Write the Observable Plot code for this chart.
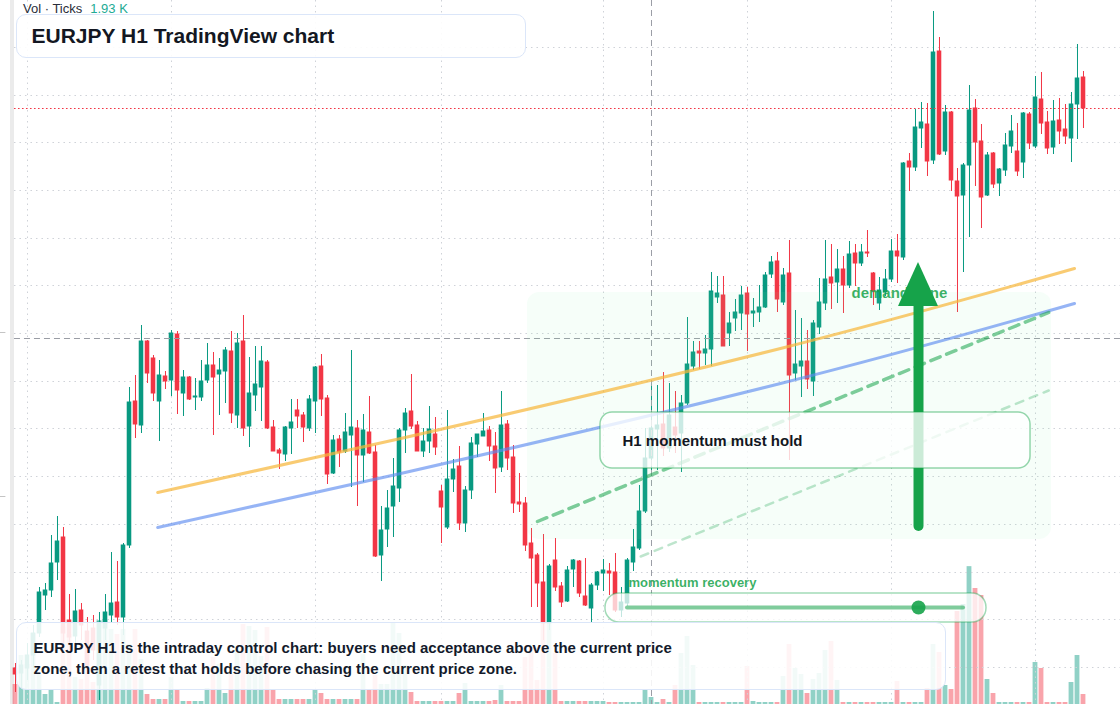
<!DOCTYPE html>
<html lang="en">
<head>
<meta charset="utf-8">
<title>EURJPY H1 TradingView chart</title>
<script src="https://cdn.jsdelivr.net/npm/d3@7"></script>
<script src="https://cdn.jsdelivr.net/npm/@observablehq/plot@0.6"></script>
<style>
  html, body { margin: 0; padding: 0; background: #ffffff; }
  #chart { position: relative; width: 1120px; height: 704px; overflow: hidden; background: #fff;
           font-family: "Liberation Sans", Arial, Helvetica, sans-serif; }
  #chart svg { position: absolute; left: 0; display: block; }
  #vol-layer { top: 504px; }
  #price-layer { top: 0; }
  .scale-strip { position: absolute; left: 10px; top: 0; width: 4px; height: 704px; background: #ebebeb; }
  .legend { position: absolute; left: 23px; top: 0; font-size: 13px; line-height: 17px; color: #2a2e39; white-space: nowrap; }
  .legend .val { color: #22ab94; margin-left: 8px; }
  .title-box { position: absolute; left: 16px; top: 14px; width: 510px; height: 44px; box-sizing: border-box;
     border: 1.5px solid #dbe6f9; border-radius: 10px; background: rgba(255,255,255,0.9);
     display: flex; align-items: center; padding-left: 14.5px; font-size: 21px; font-weight: 700; color: #131722; }
  .caption-box { position: absolute; left: 16px; top: 622px; width: 930px; height: 68px; box-sizing: border-box;
     border: 1.5px solid #dbe6f9; border-radius: 10px; background: rgba(255,255,255,0.88);
     padding: 14px 0 0 16.5px; font-size: 15px; line-height: 21px; font-weight: 700; color: #131a2b; white-space: nowrap; }
</style>
</head>
<body>
<div id="chart"><div class="scale-strip"></div></div>
<script>
// ---- Data: EURJPY H1 candles (index = hour number), prices in JPY ----
const open = [158.32,158.27,158.32,158.45,158.67,159.05,159.10,159.38,159.63,158.80,
158.64,158.90,158.69,158.72,158.15,158.72,158.85,158.98,158.83,159.55,
160.99,160.75,161.59,161.42,160.99,161.24,161.20,161.66,161.07,161.23,
161.03,161.03,161.20,161.35,161.26,161.29,161.49,160.85,161.59,160.74,
161.05,161.13,161.38,160.73,160.50,160.46,160.72,160.90,160.85,160.72,
160.99,161.34,161.02,160.27,160.61,160.49,160.65,160.72,160.45,160.68,
160.48,159.45,159.71,159.94,160.12,160.70,160.89,160.75,160.49,160.59,
160.66,160.09,159.73,160.21,160.34,159.77,160.10,160.56,160.64,160.70,
160.54,160.33,160.76,160.43,159.98,159.97,159.57,159.45,159.18,158.77,
159.40,159.14,158.99,159.31,159.39,159.04,158.92,159.15,159.27,159.29,
159.28,158.90,158.97,159.38,159.52,159.89,160.42,160.71,160.76,160.52,
160.73,160.67,160.97,161.34,161.49,161.47,161.51,162.03,162.05,161.67,
161.82,161.87,162.07,161.87,161.88,161.93,162.26,162.39,161.98,162.27,
161.27,161.34,161.39,161.19,161.73,161.97,162.23,162.18,162.31,162.15,
162.47,162.37,162.48,162.27,161.97,162.08,162.21,162.49,162.43,163.39,
163.33,163.72,163.76,163.40,164.49,163.49,163.88,163.19,163.05,163.35,
163.92,163.59,163.05,163.47,163.17,163.30,163.54,163.49,163.38,163.86,
163.54,164.01,163.78,163.53,163.80,163.71,163.62,163.96,164.23];
const high = [158.37,158.40,158.57,158.75,159.13,159.17,159.65,159.84,159.73,159.06,
159.11,158.97,158.83,158.85,158.88,159.06,159.48,159.39,159.57,161.13,
161.25,161.75,161.60,161.45,161.40,161.29,161.70,161.69,161.30,161.24,
161.22,161.40,161.57,161.48,161.42,161.53,161.69,161.67,161.85,161.43,
161.54,161.54,161.40,160.80,160.52,160.74,161.01,161.01,160.88,161.05,
161.34,161.46,161.05,160.65,160.65,160.87,161.50,160.80,160.86,161.04,
160.55,159.94,160.10,160.42,160.72,160.92,161.26,160.79,160.72,160.94,
160.83,160.15,160.90,160.41,160.54,160.14,160.63,160.66,160.87,160.74,
160.68,161.09,160.80,160.55,160.27,160.03,159.72,159.47,159.66,159.36,
159.62,159.18,159.34,159.41,159.40,159.42,159.17,159.29,159.41,159.37,
159.47,159.13,159.42,159.71,160.15,160.72,161.16,161.15,161.28,161.17,
161.09,161.05,161.83,161.59,161.59,161.65,162.28,162.24,162.24,161.88,
162.01,162.14,162.13,162.02,162.15,162.28,162.44,162.48,162.32,162.60,
161.90,161.82,161.70,161.80,162.22,162.60,162.56,162.51,162.44,162.59,
162.56,162.56,162.70,162.28,162.23,162.31,162.61,162.66,163.38,163.47,
163.91,163.98,163.97,164.89,164.63,163.95,163.89,163.32,163.37,164.15,
164.01,163.76,163.48,163.48,163.32,163.67,163.85,163.77,163.88,163.88,
164.24,164.28,163.89,164.00,164.02,163.96,164.08,164.56,164.29];
const low = [158.08,158.12,158.20,158.32,158.63,158.90,159.03,159.20,158.55,158.50,
158.55,158.60,158.28,158.40,158.00,158.60,158.78,158.75,158.65,159.52,
160.62,160.67,161.17,160.99,160.59,161.11,161.04,160.86,160.84,161.00,
160.90,160.99,161.17,160.65,160.85,160.97,160.77,160.72,160.64,160.53,
160.89,160.79,160.71,160.49,160.31,160.39,160.46,160.72,160.58,160.69,
160.67,160.84,160.16,160.26,160.33,160.47,160.13,159.94,160.18,160.46,
159.43,159.19,159.53,159.63,159.98,160.47,160.71,160.49,160.43,160.47,
160.45,159.57,159.71,160.08,159.70,159.68,160.01,160.43,160.64,160.39,
160.07,160.28,160.30,159.87,159.88,159.49,158.93,158.93,158.60,158.70,
159.09,158.93,158.98,159.13,159.03,158.94,158.78,159.10,159.09,159.05,
158.88,158.83,158.94,159.29,159.50,159.87,160.30,160.30,160.44,160.48,
160.47,160.28,160.95,161.30,161.31,161.35,161.34,161.97,161.54,161.54,
161.69,161.70,161.49,161.73,161.78,161.92,162.22,161.88,161.95,160.40,
161.20,161.03,161.11,161.04,161.66,161.90,161.91,161.97,161.87,162.12,
162.14,162.34,162.43,161.95,161.90,162.04,162.18,162.17,162.40,163.09,
163.29,163.52,163.24,163.36,163.45,163.45,163.09,161.88,162.28,162.63,
163.14,162.72,163.04,163.12,163.04,163.24,163.47,163.24,163.22,163.51,
163.52,163.66,163.46,163.46,163.56,163.56,163.38,163.61,163.72];
const close = [158.26,158.35,158.45,158.67,159.08,159.10,159.37,159.59,158.67,158.63,
158.89,158.75,158.35,158.50,158.78,158.88,158.97,158.83,159.55,160.98,
160.76,161.59,161.27,161.07,161.25,161.19,161.67,161.10,161.23,161.01,
161.04,161.19,161.35,161.23,161.30,161.50,160.87,161.57,160.72,161.07,
161.16,161.39,160.72,160.49,160.47,160.73,160.78,160.84,160.73,161.01,
161.33,161.01,160.26,160.60,160.48,160.68,160.73,160.45,160.70,160.47,
159.44,159.70,159.92,160.14,160.70,160.87,160.74,160.49,160.59,160.71,
160.53,159.93,160.21,160.31,159.77,160.10,160.57,160.66,160.69,160.54,
160.32,160.75,160.42,159.97,159.96,159.55,159.42,159.17,158.77,159.34,
159.13,158.98,159.30,159.40,159.07,158.95,159.15,159.28,159.30,159.27,
158.90,158.98,159.40,159.53,159.89,160.42,160.72,160.75,160.52,160.85,
160.65,160.97,161.36,161.48,161.47,161.51,162.09,162.07,161.54,161.77,
161.88,162.05,161.86,161.89,161.93,162.25,162.38,162.01,162.25,161.25,
161.36,161.39,161.21,161.77,161.98,162.21,162.17,162.31,162.15,162.46,
162.37,162.48,162.47,162.09,162.10,162.21,162.49,162.44,163.37,163.33,
163.73,163.78,163.39,164.48,163.46,163.88,163.20,163.04,163.35,163.90,
163.58,163.03,163.45,163.16,163.31,163.55,163.69,163.29,163.87,163.57,
164.03,163.77,163.52,163.79,163.69,163.64,163.96,164.22,163.92];
// tick volume per candle
const volume = [280,686,560,994,420,140,210,28,1078,980,
378,350,742,308,1176,1176,1050,980,1050,840,
1050,630,140,70,70,70,378,196,42,42,
42,42,224,658,560,154,420,784,1120,1092,
1036,672,1078,196,70,70,70,70,70,70,
210,154,70,70,70,70,70,70,700,196,
406,280,280,1134,994,546,168,42,42,42,
42,42,42,42,154,294,42,42,42,42,
56,266,42,42,42,658,798,336,1134,1134,
714,42,42,42,42,42,42,42,42,28,
28,28,28,28,28,196,98,28,70,28,
266,714,952,546,28,28,28,28,28,28,
28,28,532,42,28,28,28,28,392,840,
504,420,154,350,434,756,882,336,28,28,
28,28,28,28,28,28,28,322,28,28,
28,28,224,840,728,266,210,1302,1400,1930,
1624,1526,350,154,28,28,28,28,28,28,
588,504,28,28,28,28,308,686,140];

// grid levels and time-grid positions (candle index)
const priceGrid = [164.53,164.05,163.58,163.10,162.62,162.15,161.67,161.19,160.72,160.24,159.76,159.28,158.81,158.33];
const timeGrid = [2,26,50,71,98,122,146,170];
const axisTicks = [161.68,160.04];
const crosshair = {i: 106, p: 161.62};

// trend lines (candle index, price)
const resistanceTrend = [{i:23.7,p:160.08},{i:64.2,p:160.62},{i:127.5,p:161.52},{i:176.5,p:162.32}];
const supportTrend = [{i:23.7,p:159.73},{i:64.2,p:160.27},{i:127.5,p:161.17},{i:176.5,p:161.97}];
const retestPath = [{i:87.0,p:159.79},{i:172.2,p:161.88}];
const lowerPath = [{i:104.2,p:159.44},{i:172.2,p:161.10}];

// annotation anchors
const demandZone = {i1: 85.33, i2: 172.67, p1: 162.08, p2: 159.61};
const holdBox = {i1: 97.5, i2: 169.17, p1: 160.88, p2: 160.32, ti: 101.17, tp: 160.59};
const arrow = {i: 150.5, from: 159.74, base: 161.94, tip: 162.38, half: 3.33};
const slider = {i1: 98.33, i2: 161.83, p1: 159.07, p2: 158.78, li1: 102, li2: 158, lp: 158.93, knob: 150.5, ti: 102.17, tp: 159.18};
const demandLabel = {i: 139.33, p: 162.07};

// ---- Build ----
const UP = "#089981", DOWN = "#f23645", GREEN = "#16a34a";
const xDomain = [-2.5, 184.1667];
const candles = open.map((o, i) => ({i, o, h: high[i], l: low[i], c: close[i], v: volume[i]}));
const upC = candles.filter(d => d.c >= d.o);
const downC = candles.filter(d => d.c < d.o);
const half = 0.38;
const lastClose = close[close.length - 1];

const chart = document.getElementById("chart");

const volSvg = Plot.plot({
  width: 1120, height: 200, margin: 0,
  x: {domain: xDomain, axis: null},
  y: {domain: [0, 2800], axis: null},
  style: {background: "transparent"},
  marks: [
    Plot.rectY(upC, {x1: d => d.i - 0.4, x2: d => d.i + 0.4, y1: 0, y2: "v", fill: UP, fillOpacity: 0.45}),
    Plot.rectY(downC, {x1: d => d.i - 0.4, x2: d => d.i + 0.4, y1: 0, y2: "v", fill: DOWN, fillOpacity: 0.45})
  ]
});
volSvg.id = "vol-layer";
chart.appendChild(volSvg);

const headPts = [
  {p: arrow.base, a: arrow.i - arrow.half, b: arrow.i + arrow.half},
  {p: arrow.tip, a: arrow.i, b: arrow.i}
];

const mainSvg = Plot.plot({
  width: 1120, height: 704, margin: 0,
  x: {domain: xDomain, axis: null},
  y: {domain: [157.96, 165], axis: null},
  style: {background: "transparent", fontFamily: "Liberation Sans, Arial, sans-serif", overflow: "visible"},
  marks: [
    Plot.ruleY(priceGrid, {x1: -0.17, x2: 184.17, stroke: "#cfd2d8", strokeWidth: 1, strokeDasharray: "1.5,4"}),
    Plot.ruleX(timeGrid, {stroke: "#cfd2d8", strokeWidth: 1, strokeDasharray: "1.5,4"}),
    Plot.ruleY(axisTicks, {x1: -2.5, x2: -1.6, stroke: "#c4c4c4"}),
    // candles
    Plot.ruleX(upC, {x: "i", y1: "l", y2: "h", stroke: UP, strokeWidth: 1}),
    Plot.ruleX(downC, {x: "i", y1: "l", y2: "h", stroke: DOWN, strokeWidth: 1}),
    Plot.rect(upC, {x1: d => d.i - half, x2: d => d.i + half, y1: "o", y2: "c", fill: UP, insetTop: -0.5, insetBottom: -0.5}),
    Plot.rect(downC, {x1: d => d.i - half, x2: d => d.i + half, y1: "o", y2: "c", fill: DOWN, insetTop: -0.5, insetBottom: -0.5}),
    // last price and crosshair
    Plot.ruleY([lastClose], {x1: -0.17, x2: 184.17, stroke: DOWN, strokeWidth: 1.2, strokeDasharray: "1.6,2.4"}),
    Plot.ruleX([crosshair.i], {stroke: "#9a9da5", strokeWidth: 1, strokeDasharray: "6,4"}),
    Plot.ruleY([crosshair.p], {x1: -0.17, x2: 184.17, stroke: "#9a9da5", strokeWidth: 1, strokeDasharray: "6,4"}),
    // demand zone
    Plot.rect([demandZone], {x1: "i1", x2: "i2", y1: "p1", y2: "p2", fill: "#86efac", fillOpacity: 0.075, rx: 12}),
    // trend lines
    Plot.line(resistanceTrend, {x: "i", y: "p", stroke: "#f6b73c", strokeOpacity: 0.72, strokeWidth: 3, curve: "natural"}),
    Plot.line(supportTrend, {x: "i", y: "p", stroke: "#5e8cf0", strokeOpacity: 0.65, strokeWidth: 3, curve: "natural"}),
    Plot.line(retestPath, {x: "i", y: "p", stroke: GREEN, strokeOpacity: 0.55, strokeWidth: 3.5, strokeDasharray: "10,7"}),
    Plot.line(lowerPath, {x: "i", y: "p", stroke: GREEN, strokeOpacity: 0.28, strokeWidth: 2.5, strokeDasharray: "8,7"}),
    // demand label, arrow
    Plot.text(["demand zone"], {x: demandLabel.i, y: demandLabel.p, textAnchor: "start", fill: GREEN, fillOpacity: 0.85, fontSize: 15, fontWeight: 700}),
    Plot.ruleX([arrow.i], {y1: arrow.from, y2: arrow.base, stroke: GREEN, strokeWidth: 10, strokeLinecap: "round"}),
    Plot.areaX(headPts, {y: "p", x1: "a", x2: "b", fill: GREEN}),
    // hold box
    Plot.rect([holdBox], {x1: "i1", x2: "i2", y1: "p1", y2: "p2", fill: "white", fillOpacity: 0.78, stroke: GREEN, strokeOpacity: 0.45, strokeWidth: 1.5, rx: 12}),
    Plot.text(["H1 momentum must hold"], {x: holdBox.ti, y: holdBox.tp, textAnchor: "start", fill: "#131722", fontSize: 15, fontWeight: 700}),
    // momentum slider
    Plot.text(["momentum recovery"], {x: slider.ti, y: slider.tp, textAnchor: "start", fill: GREEN, fillOpacity: 0.85, fontSize: 13, fontWeight: 700}),
    Plot.rect([slider], {x1: "i1", x2: "i2", y1: "p1", y2: "p2", fill: "white", fillOpacity: 0.75, stroke: GREEN, strokeOpacity: 0.4, strokeWidth: 1.5, rx: 14}),
    Plot.ruleY([slider.lp], {x1: slider.li1, x2: slider.li2, stroke: GREEN, strokeOpacity: 0.55, strokeWidth: 4, strokeLinecap: "round"}),
    Plot.dot([slider], {x: "knob", y: "lp", r: 7, fill: GREEN, fillOpacity: 0.9, stroke: "none"})
  ]
});
mainSvg.id = "price-layer";
chart.appendChild(mainSvg);

chart.insertAdjacentHTML("beforeend",
  '<div class="legend">Vol · Ticks<span class="val">1.93 K</span></div>' +
  '<div class="title-box">EURJPY H1 TradingView chart</div>' +
  '<div class="caption-box">EURJPY H1 is the intraday control chart: buyers need acceptance above the current price<br>zone, then a retest that holds before chasing the current price zone.</div>');
</script>
</body>
</html>
